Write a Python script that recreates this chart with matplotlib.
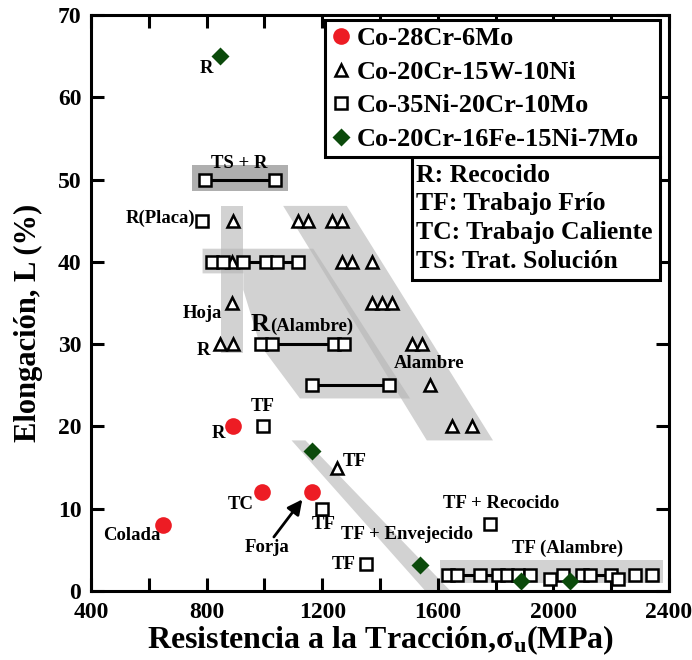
import matplotlib
matplotlib.use('Agg')
import matplotlib.pyplot as plt
from matplotlib.patches import Polygon, Rectangle
from matplotlib.ticker import MultipleLocator, FuncFormatter

plt.rcParams['font.family'] = ['Liberation Serif', 'DejaVu Serif']
plt.rcParams['font.weight'] = 'bold'
plt.rcParams['axes.labelweight'] = 'bold'
plt.rcParams['mathtext.fontset'] = 'custom'
plt.rcParams['mathtext.rm'] = 'Liberation Serif:bold'
plt.rcParams['mathtext.bf'] = 'Liberation Serif:bold'
plt.rcParams['mathtext.it'] = 'Liberation Serif:bold'

# ---------------- data ----------------
series_names = ['Co-28Cr-6Mo', 'Co-20Cr-15W-10Ni', 'Co-35Ni-20Cr-10Mo', 'Co-20Cr-16Fe-15Ni-7Mo']

circ_x = [650, 891, 992, 1165]
circ_y = [8, 20, 12, 12]

tri_x = [892, 1117, 1152, 1233, 1268,
         888, 1268, 1302, 1371,
         887, 1371, 1406, 1440,
         846, 892, 1509, 1547,
         1573, 1648, 1720, 1250]
tri_y = [45, 45, 45, 45, 45,
         40, 40, 40, 40,
         35, 35, 35, 35,
         30, 30, 30, 30,
         25, 20, 20, 15]

sq_x = [794, 1037, 785,
        818, 856, 925, 1005, 1045, 1115,
        988, 1025, 1242, 1276,
        1163, 1432, 995, 1200, 1350, 1781,
        1636, 1665, 1746, 1809, 1838, 1879, 1919, 1988, 2034, 2098, 2127, 2200, 2225, 2282, 2340]
sq_y = [50, 50, 45,
        40, 40, 40, 40, 40, 40,
        30, 30, 30, 30,
        25, 25, 20, 10, 3.3, 8.2,
        2, 2, 2, 2, 2, 2, 2, 1.5, 2, 2, 2, 1.9, 1.4, 2, 2]

dia_x = [846, 1163, 1540, 1888, 2057]
dia_y = [65, 17, 3.2, 1.2, 1.2]

# ranges joined by a line (start, end, elongation)
seg_x0 = [794, 925, 1045, 1025, 1163, 1665, 1746, 2127]
seg_x1 = [1037, 1005, 1115, 1242, 1432, 1746, 1809, 2200]
seg_y = [50, 40, 40, 30, 25, 2, 2, 2]

# shaded groups (MPa, %)
band_tsr = [(748, 48.6), (1082, 48.6), (1082, 51.8), (748, 51.8)]
band_hoja = [(849, 28.9), (927, 28.9), (927, 46.8), (849, 46.8)]
band_ralambre = [(786, 41.6), (1169, 41.6), (1504, 23.4), (1123, 23.4),
                 (985, 29.9), (927, 36.6), (927, 38.6), (786, 38.6)]
band_alambre = [(1065, 46.8), (1285, 46.8), (1791, 18.3), (1562, 18.3)]
band_tf = [(1094, 18.3), (1142, 18.3), (1644, 0), (1557, 0)]
band_tfal = [(1607, 0.94), (2380, 0.94), (2380, 3.77), (1607, 3.77)]

abbrev = ['R: Recocido', 'TF: Trabajo Frío', 'TC: Trabajo Caliente', 'TS: Trat. Solución']

# ---------------- figure ----------------
fig = plt.figure(figsize=(6.92, 6.60), dpi=100)
ax = fig.add_axes([91/692, 69/660, 578/692, 576/660])
ax.set_xlim(400, 2400)
ax.set_ylim(0, 70)

band_col = '#b4b4b4'
for poly in [band_hoja, band_ralambre, band_alambre, band_tf, band_tfal]:
    ax.add_patch(Polygon(poly, closed=True, facecolor=band_col, alpha=0.6,
                         edgecolor='none', zorder=1))
ax.add_patch(Polygon(band_tsr, closed=True, facecolor='#a6a6a6', alpha=0.9,
                     edgecolor='none', zorder=1))

for x0, x1, y in zip(seg_x0, seg_x1, seg_y):
    ax.plot([x0, x1], [y, y], color='black', lw=2.2, zorder=2)

h_c, = ax.plot(circ_x, circ_y, 'o', ms=12, color='#ed1c24', mec='none', zorder=4,
               label=series_names[0])
h_t, = ax.plot(tri_x, tri_y, '^', ms=8.5, mfc='white', mec='black', mew=1.8, zorder=3,
               label=series_names[1])
h_s, = ax.plot(sq_x, sq_y, 's', ms=9, mfc='white', mec='black', mew=1.8, zorder=3,
               label=series_names[2])
h_d, = ax.plot(dia_x, dia_y, 'D', ms=9, color='#0b4a0b', mec='none', zorder=5,
               label=series_names[3])

# ---------------- annotations ----------------
fs = 13.5
ax.text(800, 63.5, 'R', fontsize=fs, ha='center', va='center')
ax.text(913, 52.0, 'TS + R', fontsize=fs, ha='center', va='center')
ax.text(762, 45.3, 'R(Placa)', fontsize=fs, ha='right', va='center')
ax.text(785, 33.7, 'Hoja', fontsize=fs, ha='center', va='center')
ax.text(789, 29.2, 'R', fontsize=fs, ha='center', va='center')
ax.text(953, 31.6, 'R', fontsize=19, ha='left', va='baseline')
ax.text(1019, 31.6, '(Alambre)', fontsize=fs, ha='left', va='baseline')
ax.text(1571, 27.7, 'Alambre', fontsize=fs, ha='center', va='center')
ax.text(996, 22.4, 'TF', fontsize=fs, ha='center', va='center')
ax.text(840, 19.1, 'R', fontsize=fs, ha='center', va='center')
ax.text(1313, 15.7, 'TF', fontsize=fs, ha='center', va='center')
ax.text(918, 10.5, 'TC', fontsize=fs, ha='center', va='center')
ax.text(1204, 8.1, 'TF', fontsize=fs, ha='center', va='center')
ax.text(541, 6.7, 'Colada', fontsize=fs, ha='center', va='center')
ax.text(1008, 5.3, 'Forja', fontsize=fs, ha='center', va='center')
ax.text(1492, 6.9, 'TF + Envejecido', fontsize=fs, ha='center', va='center')
ax.text(1273, 3.2, 'TF', fontsize=fs, ha='center', va='center')
ax.text(1818, 10.6, 'TF + Recocido', fontsize=fs, ha='center', va='center')
ax.text(2048, 5.2, 'TF (Alambre)', fontsize=fs, ha='center', va='center')
ax.annotate('', xy=(1137, 11.4), xytext=(1027, 6.3),
            arrowprops=dict(arrowstyle='-|>', lw=2, color='black', mutation_scale=22),
            zorder=6)

# ---------------- axes styling ----------------
for sp in ax.spines.values():
    sp.set_linewidth(2.2)
ax.xaxis.set_major_locator(MultipleLocator(200))
ax.yaxis.set_major_locator(MultipleLocator(10))
ax.xaxis.set_major_formatter(FuncFormatter(lambda v, p: f'{int(v)}' if int(v) % 400 == 0 else ''))
ax.tick_params(direction='in', length=9.5, width=2.2, top=True, right=True,
               labelsize=17)
ax.tick_params(axis='x', pad=8)
ax.tick_params(axis='y', pad=7)
for lbl in ax.get_xticklabels() + ax.get_yticklabels():
    lbl.set_fontweight('bold')

ax.set_xlabel('Resistencia a la Tracción,σ$_\\mathbf{u}$(MPa)', fontsize=23,
              fontweight='bold', labelpad=0)
ax.set_ylabel('Elongación, L (%)', fontsize=22, fontweight='bold')
ax.yaxis.set_label_coords(-0.083, 0.465)

leg = ax.legend(handles=[h_c, h_t, h_s, h_d], loc='upper left',
                bbox_to_anchor=(0.405, 0.753, 0.579, 0.238), mode='expand',
                prop={'family': 'Liberation Serif', 'weight': 'bold', 'size': 19},
                frameon=True, fancybox=False, edgecolor='black', framealpha=1,
                borderpad=0.25, handlelength=0.7, handletextpad=0.25, labelspacing=0.38,
                borderaxespad=0)
leg.get_frame().set_linewidth(2.2)
leg.set_zorder(10)

ax.add_patch(Rectangle((0.555, 0.540), 0.429, 0.213, transform=ax.transAxes,
                       facecolor='white', edgecolor='black', lw=2.2, zorder=9))
for i, t in enumerate(abbrev):
    ax.text(0.563, 0.722 - i * 0.0497, t, transform=ax.transAxes, fontsize=18.5,
            ha='left', va='center', zorder=11)

fig.savefig('out.png', dpi=100)
